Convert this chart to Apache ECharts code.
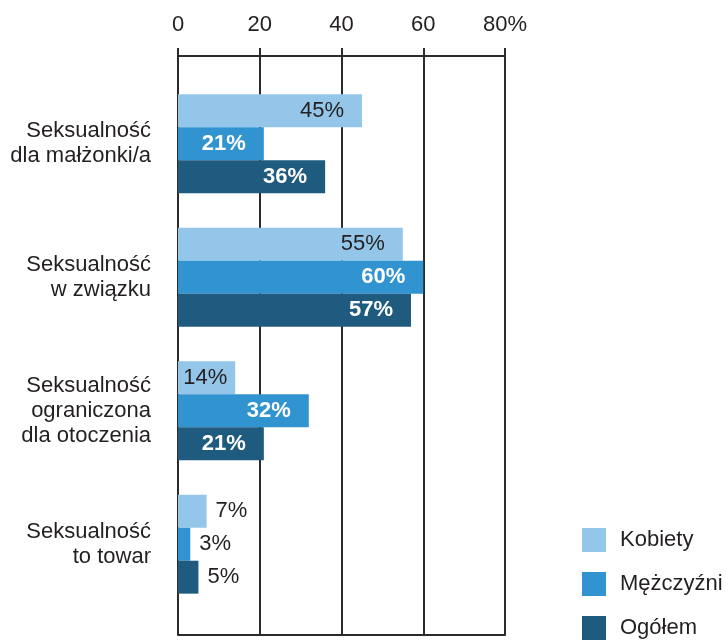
<!DOCTYPE html>
<html>
<head>
<meta charset="utf-8">
<script src="https://cdn.jsdelivr.net/npm/echarts@6/dist/echarts.min.js"></script>
<style>
  html, body { margin: 0; padding: 0; background: #fff; }
  #chart { width: 726px; height: 641px; }
</style>
</head>
<body>
<div id="chart"></div>
<script>
const categories = [
  "Seksualność\ndla małżonki/a",
  "Seksualność\nw związku",
  "Seksualność\nograniczona\ndla otoczenia",
  "Seksualność\nto towar",
];
const kobiety = [45, 55, 14, 7];
const mezczyzni = [21, 60, 32, 3];
const ogolem = [36, 57, 21, 5];
const xTicks = [0, 20, 40, 60, 80];

const font = "'Liberation Sans', Arial, sans-serif";
const ink = "#231f20";
const gridColor = "#2b2b2b";

// small values sit outside the bar, the rest inside on the right
const points = (values) =>
  values.map((v) => {
    if (v < 10) {
      return {
        value: v,
        label: { position: "right", distance: 9, color: ink, fontWeight: "normal" },
      };
    }
    return { value: v, label: { position: "insideRight", distance: v < 20 ? 8 : 18 } };
  });

const barSeries = (name, values, color, labelColor, bold) => ({
  name,
  type: "bar",
  xAxisIndex: 2,
  yAxisIndex: 1,
  data: points(values),
  itemStyle: { color },
  barGap: "0%",
  barCategoryGap: "26%",
  label: {
    show: true,
    formatter: "{c}%",
    fontFamily: font,
    fontSize: 22,
    color: labelColor,
    fontWeight: bold ? "bold" : "normal",
  },
});

const myChart = echarts.init(document.getElementById("chart"));
myChart.setOption({
  animation: false,
  backgroundColor: "#fff",
  textStyle: { fontFamily: font },
  grid: [
    // frame: top axis, grid lines, bottom line
    { left: 178, right: 221, top: 56, bottom: 6 },
    // bars
    { left: 178, right: 221, top: 77, bottom: 30 },
  ],
  legend: {
    orient: "vertical",
    left: 577,
    top: 523,
    height: 200,
    icon: "rect",
    itemWidth: 24,
    itemHeight: 24,
    itemGap: 20,
    textStyle: { fontFamily: font, fontSize: 22, color: ink, padding: [0, 0, 0, 9] },
    data: ["Kobiety", "Mężczyźni", "Ogółem"],
  },
  xAxis: [
    {
      gridIndex: 0,
      type: "value",
      position: "top",
      min: xTicks[0],
      max: xTicks[xTicks.length - 1],
      interval: 20,
      axisLine: { show: true, onZero: false, lineStyle: { color: gridColor, width: 2 } },
      axisTick: { show: true, inside: false, length: 8, lineStyle: { color: gridColor, width: 2 } },
      axisLabel: {
        margin: 20,
        fontSize: 22,
        color: ink,
        fontFamily: font,
        formatter: (v) => (v === xTicks[xTicks.length - 1] ? v + "%" : String(v)),
      },
      splitLine: { show: true, lineStyle: { color: gridColor, width: 2 } },
    },
    {
      gridIndex: 0,
      type: "value",
      position: "bottom",
      min: xTicks[0],
      max: xTicks[xTicks.length - 1],
      axisLine: { show: true, onZero: false, lineStyle: { color: gridColor, width: 2 } },
      axisTick: { show: false },
      axisLabel: { show: false },
      splitLine: { show: false },
    },
    {
      gridIndex: 1,
      type: "value",
      min: xTicks[0],
      max: xTicks[xTicks.length - 1],
      show: false,
    },
  ],
  yAxis: [
    { gridIndex: 0, type: "value", show: false },
    {
      gridIndex: 1,
      type: "category",
      inverse: true,
      data: categories,
      axisLine: { show: false },
      axisTick: { show: false },
      axisLabel: {
        margin: 27,
        fontSize: 22,
        lineHeight: 25,
        color: ink,
        fontFamily: font,
        align: "right",
      },
    },
  ],
  series: [
    barSeries("Kobiety", kobiety, "#93c6e8", ink, false),
    barSeries("Mężczyźni", mezczyzni, "#3194d0", "#fff", true),
    barSeries("Ogółem", ogolem, "#1f5a7f", "#fff", true),
  ],
});
</script>
</body>
</html>
